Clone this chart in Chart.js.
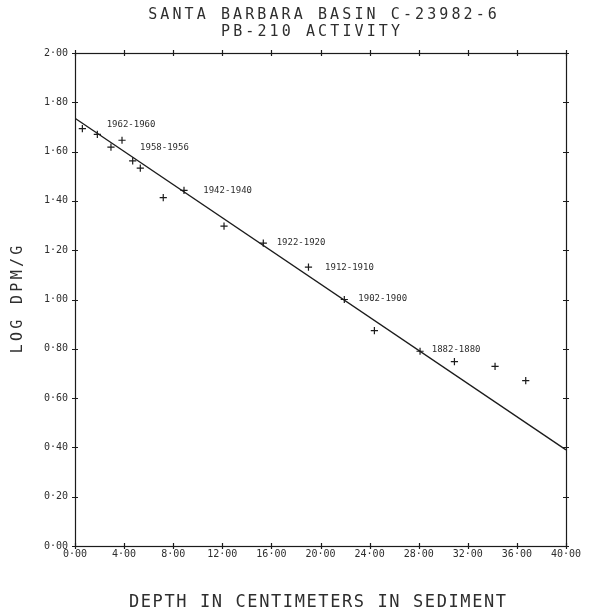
<!DOCTYPE html>
<html>
<head>
<meta charset="utf-8">
<title>Santa Barbara Basin Pb-210 activity</title>
<script src="https://cdn.jsdelivr.net/npm/chart.js@4.4.1/dist/chart.umd.min.js"></script>
<style>
  html, body { margin: 0; padding: 0; background: #ffffff; }
  #wrap { width: 591px; height: 615px; }
  canvas { display: block; }
</style>
</head>
<body>
<div id="wrap"><canvas id="chart" width="591" height="615"></canvas></div>
<script>
// Measured Pb-210 activity down core C-23982-6
const depthCm = [0.60, 1.82, 2.93, 3.83, 4.70, 5.32, 7.19, 8.88, 12.14, 15.34, 19.02, 21.94, 24.39, 28.11, 30.91, 34.22, 36.72];
const logActivity = [1.693, 1.670, 1.618, 1.646, 1.562, 1.533, 1.413, 1.443, 1.298, 1.229, 1.131, 1.000, 0.874, 0.790, 0.748, 0.729, 0.671];

// Least-squares decay line, end points at 0 and 40 cm
const fitDepth = [0, 40];
const fitLog = [1.735, 0.39];

// Varve-year annotations and their anchor (depth, log activity)
const dateLabels = ['1962-1960', '1958-1956', '1942-1940', '1922-1920', '1912-1910', '1902-1900', '1882-1880'];
const dateLabelDepth = [2.58, 5.30, 10.45, 16.43, 20.37, 23.08, 29.06];
const dateLabelLog = [1.708, 1.614, 1.443, 1.231, 1.131, 1.004, 0.797];

// Axis ticks
const xTickValues = [0, 4, 8, 12, 16, 20, 24, 28, 32, 36, 40];
const xTickLabels = ['0·00', '4·00', '8·00', '12·00', '16·00', '20·00', '24·00', '28·00', '32·00', '36·00', '40·00'];
const yTickValues = [0, 0.2, 0.4, 0.6, 0.8, 1.0, 1.2, 1.4, 1.6, 1.8, 2.0];
const yTickLabels = ['0·00', '0·20', '0·40', '0·60', '0·80', '1·00', '1·20', '1·40', '1·60', '1·80', '2·00'];

const titleLines = ['SANTA BARBARA BASIN C-23982-6', 'PB-210 ACTIVITY'];
const xAxisTitle = 'DEPTH IN CENTIMETERS IN SEDIMENT';
const yAxisTitle = 'LOG DPM/G';

const INK = '#1b1b1b';
const TEXT_INK = '#2e2e2e';
const MONO = '"DejaVu Sans Mono", "Liberation Mono", monospace';

// Draw text with extra tracking, like a pen-plotter lettering set
function plotterText(ctx, text, x, y, size, spacing, align) {
  ctx.save();
  ctx.font = size + 'px ' + MONO;
  ctx.letterSpacing = '0px';
  const base = ctx.measureText(text).width;
  const w = base + spacing * (text.length - 1);
  ctx.letterSpacing = spacing + 'px';
  ctx.fillStyle = TEXT_INK;
  ctx.textBaseline = 'middle';
  ctx.textAlign = 'left';
  const x0 = align === 'center' ? x - w / 2 : x;
  ctx.fillText(text, x0, y);
  ctx.restore();
}

// Box frame with small cross ticks on all four sides
const plotFrame = {
  id: 'plotFrame',
  beforeDatasetsDraw(chart) {
    const { ctx, chartArea: a, scales: { x, y } } = chart;
    ctx.save();
    ctx.strokeStyle = INK;
    ctx.lineWidth = 1.2;
    ctx.strokeRect(Math.round(a.left) + 0.5, Math.round(a.top) + 0.5,
                   Math.round(a.right - a.left), Math.round(a.bottom - a.top));
    const t = 3;
    ctx.beginPath();
    xTickValues.forEach(v => {
      const px = Math.round(x.getPixelForValue(v)) + 0.5;
      ctx.moveTo(px, a.bottom - t); ctx.lineTo(px, a.bottom + t);
      ctx.moveTo(px, a.top - t); ctx.lineTo(px, a.top + t);
    });
    yTickValues.forEach(v => {
      const py = Math.round(y.getPixelForValue(v)) + 0.5;
      ctx.moveTo(a.left - t, py); ctx.lineTo(a.left + t, py);
      ctx.moveTo(a.right - t, py); ctx.lineTo(a.right + t, py);
    });
    ctx.stroke();
    ctx.restore();
  }
};

// Titles and the varve-year annotations
const plotText = {
  id: 'plotText',
  afterDraw(chart) {
    const { ctx, chartArea: a, scales: { x, y } } = chart;
    const cx = (a.left + a.right) / 2;
    const cy = (a.top + a.bottom) / 2;
    plotterText(ctx, titleLines[0], cx + 2, a.top - 38, 15, 3.1, 'center');
    plotterText(ctx, titleLines[1], cx - 10, a.top - 21, 15, 3.1, 'center');
    plotterText(ctx, xAxisTitle, cx - 3, a.bottom + 57, 17, 1.6, 'center');
    ctx.save();
    ctx.translate(a.left - 56.5, cy);
    ctx.rotate(-Math.PI / 2);
    plotterText(ctx, yAxisTitle, 0, 0, 15, 3.3, 'center');
    ctx.restore();
    dateLabels.forEach((txt, i) => {
      plotterText(ctx, txt, x.getPixelForValue(dateLabelDepth[i]),
                  y.getPixelForValue(dateLabelLog[i]), 9, 0, 'left');
    });
  }
};

new Chart(document.getElementById('chart').getContext('2d'), {
  type: 'scatter',
  data: {
    datasets: [
      {
        label: 'Pb-210 activity',
        data: depthCm.map((d, i) => ({ x: d, y: logActivity[i] })),
        pointStyle: 'cross',
        pointRadius: 3.6,
        pointHoverRadius: 3.6,
        borderColor: INK,
        backgroundColor: INK,
        borderWidth: 1.2,
        showLine: false
      },
      {
        label: 'Decay fit',
        type: 'line',
        data: fitDepth.map((d, i) => ({ x: d, y: fitLog[i] })),
        borderColor: INK,
        borderWidth: 1.3,
        pointRadius: 0,
        fill: false,
        tension: 0
      }
    ]
  },
  options: {
    responsive: false,
    animation: false,
    devicePixelRatio: 1,
    layout: { padding: { top: 53, right: 25, bottom: 0, left: 0 } },
    plugins: {
      legend: { display: false },
      tooltip: { enabled: false },
      title: { display: false }
    },
    scales: {
      x: {
        type: 'linear',
        min: 0,
        max: 40,
        grid: { display: false, drawTicks: false },
        border: { display: false },
        afterBuildTicks: s => { s.ticks = xTickValues.map(v => ({ value: v })); },
        afterFit: s => { s.height = 69; },
        ticks: {
          autoSkip: false,
          maxRotation: 0,
          padding: 2,
          color: TEXT_INK,
          font: { family: MONO, size: 10 },
          callback: (v, i) => xTickLabels[i]
        }
      },
      y: {
        type: 'linear',
        min: 0,
        max: 2,
        grid: { display: false, drawTicks: false },
        border: { display: false },
        afterBuildTicks: s => { s.ticks = yTickValues.map(v => ({ value: v })); },
        afterFit: s => { s.width = 75; },
        ticks: {
          autoSkip: false,
          padding: 7,
          color: TEXT_INK,
          font: { family: MONO, size: 10 },
          callback: (v, i) => yTickLabels[i]
        }
      }
    }
  },
  plugins: [plotFrame, plotText]
});
</script>
</body>
</html>
